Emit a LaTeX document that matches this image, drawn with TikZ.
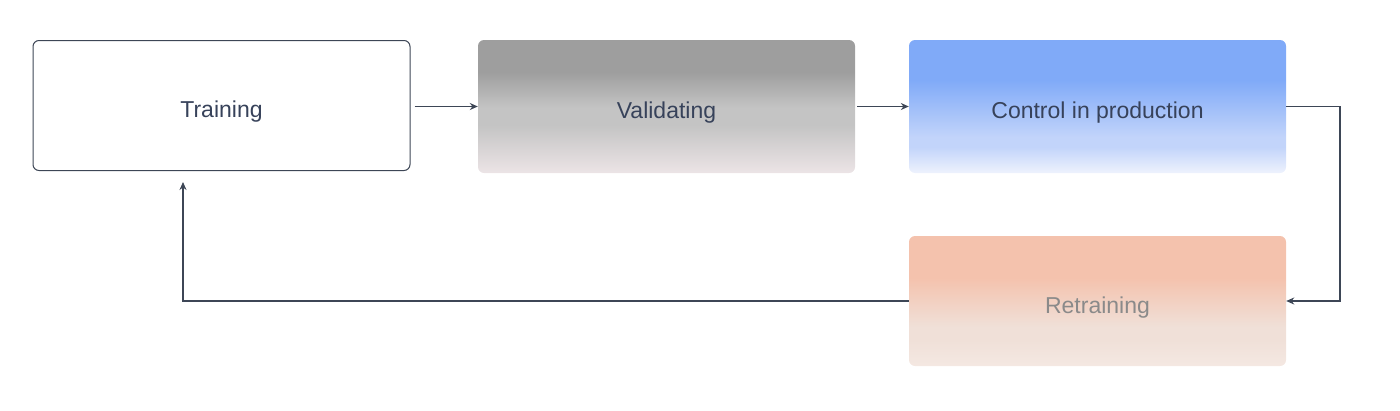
\documentclass[tikz,border=0pt]{standalone}
\usepackage{fontspec}
\setmainfont{Liberation Sans}
\usetikzlibrary{arrows.meta}
\definecolor{ink}{HTML}{37425A}
\definecolor{lineclr}{HTML}{3D4656}
\definecolor{retxt}{HTML}{8A8A8A}
\definecolor{vA}{HTML}{ECE4E6}
\definecolor{vB}{HTML}{C4C4C4}
\definecolor{vC}{HTML}{9E9E9E}
\definecolor{cA}{HTML}{EEF2FD}
\definecolor{cB}{HTML}{C2D4FA}
\definecolor{cC}{HTML}{80AAF8}
\definecolor{rA}{HTML}{F4E8E2}
\definecolor{rB}{HTML}{F0E0D8}
\definecolor{rC}{HTML}{F4C2AD}
\pgfdeclareverticalshading{valshade}{100bp}{%
  color(0bp)=(vA); color(25bp)=(vA); color(43bp)=(vB);
  color(49.5bp)=(vB); color(63bp)=(vC); color(100bp)=(vC)}
\pgfdeclareverticalshading{ctlshade}{100bp}{%
  color(0bp)=(cA); color(25bp)=(cA); color(34.8bp)=(cB);
  color(38.5bp)=(cB); color(60bp)=(cC); color(100bp)=(cC)}
\pgfdeclareverticalshading{retshade}{100bp}{%
  color(0bp)=(rA); color(25bp)=(rA); color(35bp)=(rB);
  color(40bp)=(rB); color(59bp)=(rC); color(100bp)=(rC)}
\tikzset{
  stage/.style={rectangle, rounded corners=6pt, minimum width=377pt,
    inner sep=0pt, text=ink, text height=24pt, text depth=0pt,
    font=\fontsize{23}{27}\selectfont},
  flow/.style={draw=lineclr, line width=1.5pt,
    -{Stealth[length=8pt,width=7pt]}},
}
\begin{document}
\begin{tikzpicture}[x=1pt,y=-1pt]
\useasboundingbox (0,0) rectangle (1400,410);
\node[stage, draw=lineclr, line width=1pt, minimum height=130pt] (train) at (221.5,105.5) {Training};
\node[stage, shade, shading=valshade, minimum height=133pt] (val) at (666.5,106.5) {Validating};
\node[stage, shade, shading=ctlshade, minimum height=133pt] (ctl) at (1097.5,106.5) {Control in production};
\node[stage, shade, shading=retshade, minimum height=130pt, text=retxt] (ret) at (1097.5,301) {Retraining};
\coordinate (c1) at (1340,106.5);
\coordinate (c2) at (1340,301);
\coordinate (c3) at (183,301);
\coordinate (c4) at (183,182);
\draw[flow, shorten <=4pt] (train.east |- val.west) -- (val.west);
\draw[flow, shorten <=2pt] (val.east) -- (ctl.west);
\draw[flow] (ctl.east) -- (c1) -- (c2) -- (ret.east);
\draw[flow] (ret.west) -- (c3) -- (c4);
\end{tikzpicture}
\end{document}
